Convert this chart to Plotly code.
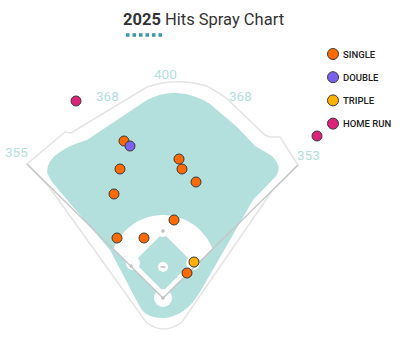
import math
import plotly.graph_objects as go

# ---------------- data ----------------
hit_types = ["SINGLE", "DOUBLE", "TRIPLE", "HOME RUN"]
type_colors = ["#ff6a00", "#7b61f0", "#ffb000", "#dc237a"]

single_x = [124, 120, 114, 179, 182, 196, 174, 144, 117, 187]
single_y = [141, 169, 194, 159, 169, 182, 220, 238, 238, 273]
double_x = [130]
double_y = [146]
triple_x = [194]
triple_y = [262]
homerun_x = [76, 317]
homerun_y = [101, 136]

distance_labels = ["355", "368", "400", "368", "353"]
title_year = "2025"
title_rest = "Hits Spray Chart"

# ---------------- styling / geometry ----------------
W, H = 407, 352
TEAL = "#b3dfdc"
LABEL_TEAL = "#b4dfdc"
OUTLINE = "#e4e4e4"
FOUL = "#c6c6c6"
FONT = "Roboto, sans-serif"

label_pos = [(16, 152), (107, 96), (165, 74), (240, 96), (308, 155)]

home = (163, 298)
mound = (163, 268)
left_pole = (27, 164)
right_pole = (298, 165)


def path_from(points, close=True):
    s = "M " + " L ".join(f"{x:.2f},{y:.2f}" for x, y in points)
    return s + (" Z" if close else "")


shapes = []

# outer outline of the park
outline_path = ("M 27,164 L 65,132 L 71,133 L 147,87 Q 177,77 207,86 L 225,97 "
                "L 265,135 L 270,137 L 280,137 L 298,165 L 272,191 L 182,322 "
                "Q 163.5,336 146,322 L 50,188 Z")
shapes.append(dict(type="path", path=outline_path, line=dict(color=OUTLINE, width=1.5),
                   fillcolor="rgba(0,0,0,0)", layer="below"))

# teal grass
teal_path = ("M 47,172 Q 47,160 60,152 Q 70,145 87,140 L 147,100 Q 162,92 177,93 "
             "Q 195,94 210,104 L 237,127 L 255,146 L 262,150 L 272,156 "
             "Q 282,166 277,175 L 253,200 L 230,240 L 200,292 Q 185,317 163,318 "
             "Q 146,318 140,307 L 110,250 L 57,188 Q 50,181 47,172 Z")
shapes.append(dict(type="path", path=teal_path, line=dict(width=0), fillcolor=TEAL, layer="below"))

# infield dirt sector (white): arc around mound bounded by foul lines
r = 53.0
cx, cy = mound
a = 2.0
b = -2.0 * (home[1] - cy)
c = (home[1] - cy) ** 2 - r * r
t = (-b + math.sqrt(b * b - 4 * a * c)) / (2 * a)
pL = (home[0] - t, home[1] - t)
pR = (home[0] + t, home[1] - t)
angL = math.atan2(pL[1] - cy, pL[0] - cx)
angR = math.atan2(pR[1] - cy, pR[0] - cx)
pts = [home, pL]
n = 60
start = angL if angL < 0 else angL - 2 * math.pi
end = angR
for i in range(n + 1):
    ang = start + (end - start) * i / n
    pts.append((cx + r * math.cos(ang), cy + r * math.sin(ang)))
pts.append(pR)
shapes.append(dict(type="path", path=path_from(pts), line=dict(width=0), fillcolor="white", layer="below"))

# infield grass diamond
shapes.append(dict(type="path", path="M 163,233 L 192,262 L 163,291 L 134,262 Z",
                   line=dict(width=0), fillcolor=TEAL, layer="below"))

# white circles: bases, home, mound
for (bx, by, br) in [(133, 263, 7), (193, 263, 7), (163, 231, 6), (163, 298, 9), (163, 267, 5)]:
    shapes.append(dict(type="circle", x0=bx - br, x1=bx + br, y0=by - br, y1=by + br,
                       line=dict(width=0), fillcolor="white", layer="below"))

# foul lines
for pole in (left_pole, right_pole):
    shapes.append(dict(type="line", x0=home[0], y0=home[1], x1=pole[0], y1=pole[1],
                       line=dict(color=FOUL, width=1.3), layer="below"))

# base markers
for (bx, by) in [(131, 266), (195, 266), (163, 231), (163, 298)]:
    shapes.append(dict(type="path",
                       path=f"M {bx},{by-2.2} L {bx+2.2},{by} L {bx},{by+2.2} L {bx-2.2},{by} Z",
                       line=dict(width=0), fillcolor="#c4c4c4", layer="below"))
# mound rubber
shapes.append(dict(type="line", x0=160.5, x1=165.5, y0=267, y1=267,
                   line=dict(color="#c8c8c8", width=1.8), layer="below"))

# title underline (dotted)
shapes.append(dict(type="line", x0=126, x1=163, y0=35, y1=35,
                   line=dict(color="#3b9aa7", width=3.5, dash="3.5px,3px")))

fig = go.Figure()

hit_sets = [(single_x, single_y), (double_x, double_y), (triple_x, triple_y), (homerun_x, homerun_y)]
for name, color, (xs, ys) in zip(hit_types, type_colors, hit_sets):
    fig.add_trace(go.Scatter(x=xs, y=ys, mode="markers", name=name, showlegend=False,
                             marker=dict(size=10, color=color, line=dict(color="#3a3a3a", width=1)),
                             hoverinfo="skip"))

# manual legend
LEG_X, LEG_Y0, LEG_DY = 333, 54, 23.2
leg_y = [LEG_Y0 + i * LEG_DY for i in range(len(hit_types))]
fig.add_trace(go.Scatter(x=[LEG_X] * len(hit_types), y=leg_y, mode="markers", showlegend=False,
                         marker=dict(size=11, color=type_colors, line=dict(color="#3a3a3a", width=1)),
                         hoverinfo="skip"))

annotations = []
for name, yy in zip(hit_types, leg_y):
    annotations.append(dict(x=LEG_X + 8, y=yy, text=name, showarrow=False, xanchor="left",
                            yanchor="middle",
                            font=dict(family=FONT, size=9.5, color="#222222", weight=500)))

for lab, (lx, ly) in zip(distance_labels, label_pos):
    annotations.append(dict(x=lx, y=ly, text=lab, showarrow=False, xanchor="center",
                            yanchor="middle", font=dict(family=FONT, size=13.5, color=LABEL_TEAL)))

annotations.append(dict(x=203, y=19, text=f"<b>{title_year}</b> {title_rest}", showarrow=False,
                        xanchor="center", yanchor="middle",
                        font=dict(family=FONT, size=16.5, color="#333333")))

fig.update_layout(
    width=W, height=H, margin=dict(l=0, r=0, t=0, b=0),
    paper_bgcolor="white", plot_bgcolor="white",
    xaxis=dict(range=[0, W], visible=False, fixedrange=True),
    yaxis=dict(range=[H, 0], visible=False, fixedrange=True),
    shapes=shapes, annotations=annotations,
)

fig.write_html("out.html")
